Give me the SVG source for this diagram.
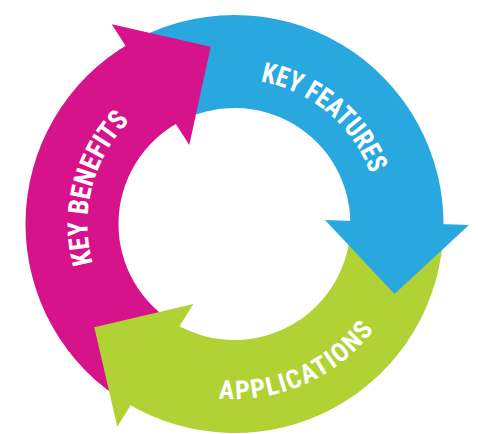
<svg xmlns="http://www.w3.org/2000/svg" width="478" height="434" viewBox="0 0 478 434">
<style>
.pink{fill:#D6138A}
.blue{fill:#29A8E0}
.green{fill:#B0D235}
.lbl{fill:#ffffff;font-family:"Roboto Condensed",Roboto,sans-serif;font-weight:bold;font-stretch:75%}
.big{font-size:28px}
.small{font-size:26px}
</style>
<defs>
<path id="pFeat" d="M184.91,87.74 A145,145 0 0 1 377.30,249.18"/>
<path id="pBen" d="M131.47,328.86 A147,147 0 0 1 195.22,82.35"/>
<path id="pApp" d="M131.02,365.12 A175,175 0 0 0 408.46,243.05"/>
</defs>
<rect width="478" height="434" fill="#ffffff"/>
<g id="connectors">
<path class="green" d="M443.47,227.65 A209,209 0 0 1 124.67,401.82 L176.85,324.66 A116,116 0 0 0 350.5,224 Z"/>
<path class="pink" d="M127.81,403.72 A209,209 0 0 1 130.63,42.63 L179.86,121.68 A116,116 0 0 0 177.38,324.97 Z"/>
<path class="blue" d="M127.49,44.47 A209,209 0 0 1 443.37,231.29 L350.48,226.02 A116,116 0 0 0 178.09,122.64 Z"/>
</g>
<g id="key-benefits">
<polygon class="pink" points="111.7,24.3 210.7,46.7 189.3,145"/>
<text class="lbl big"><textPath href="#pBen" startOffset="50%" text-anchor="middle" textLength="154" lengthAdjust="spacingAndGlyphs">KEY BENEFITS</textPath></text>
</g>
<g id="key-features">
<polygon class="blue" points="325,220 469,225 394.5,294"/>
<text class="lbl big"><textPath href="#pFeat" startOffset="50%" text-anchor="middle" textLength="150" lengthAdjust="spacingAndGlyphs">KEY FEATURES</textPath></text>
</g>
<g id="applications">
<polygon class="green" points="193.3,304 117.3,426.7 94.3,327.3"/>
<text class="lbl small"><textPath href="#pApp" startOffset="50%" text-anchor="middle" textLength="177" lengthAdjust="spacing">APPLICATIONS</textPath></text>
</g>
</svg>
